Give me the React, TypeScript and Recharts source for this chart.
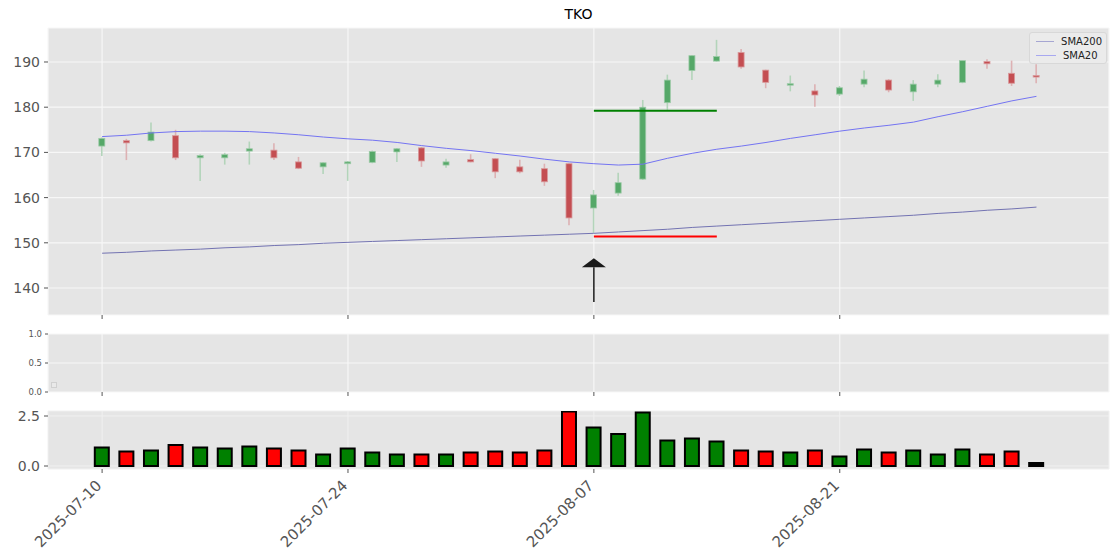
import React from "react";
import { ComposedChart, Bar, Line, XAxis, YAxis, CartesianGrid, ReferenceLine, ReferenceDot, Cell } from "recharts";

const dates = [
  "2025-07-10", "2025-07-11", "2025-07-14", "2025-07-15", "2025-07-16", "2025-07-17", "2025-07-18",
  "2025-07-21", "2025-07-22", "2025-07-23", "2025-07-24", "2025-07-25", "2025-07-28", "2025-07-29",
  "2025-07-30", "2025-07-31", "2025-08-01", "2025-08-04", "2025-08-05", "2025-08-06", "2025-08-07",
  "2025-08-08", "2025-08-11", "2025-08-12", "2025-08-13", "2025-08-14", "2025-08-15", "2025-08-18",
  "2025-08-19", "2025-08-20", "2025-08-21", "2025-08-22", "2025-08-25", "2025-08-26", "2025-08-27",
  "2025-08-28", "2025-08-29", "2025-09-02", "2025-09-03",
];
const opens = [171.4, 172.6, 172.6, 173.7, 168.8, 168.8, 170.3, 170.5, 167.9, 166.8, 167.5, 167.8, 170.1, 171.0, 167.2, 168.4, 168.6, 166.8, 166.4, 167.5, 157.7, 161.0, 164.1, 181.0, 188.1, 190.2, 192.1, 188.2, 185.0, 183.6, 182.9, 185.1, 186.0, 183.4, 185.1, 185.5, 190.1, 187.5, 187.0];
const highs = [173.3, 173.0, 176.6, 175.0, 169.6, 169.9, 172.4, 172.0, 169.0, 167.8, 168.1, 170.4, 171.0, 171.2, 168.6, 169.6, 168.7, 168.4, 167.5, 167.6, 161.7, 165.5, 181.6, 187.2, 191.5, 194.9, 192.9, 188.3, 187.0, 185.1, 184.7, 188.1, 186.2, 186.0, 187.3, 190.3, 190.6, 190.3, 189.5];
const lows = [169.2, 168.3, 172.4, 168.3, 163.7, 167.3, 167.3, 168.3, 166.3, 165.2, 163.7, 167.6, 167.9, 166.8, 166.6, 167.8, 164.3, 165.4, 162.6, 153.9, 152.2, 160.4, 163.9, 179.4, 186.0, 190.1, 188.5, 184.2, 183.5, 180.1, 182.5, 184.4, 183.3, 181.4, 184.4, 185.3, 188.5, 184.7, 185.3];
const closes = [173.1, 172.1, 174.5, 168.8, 169.3, 169.5, 170.8, 168.8, 166.5, 167.7, 167.9, 170.2, 170.8, 168.1, 167.9, 167.9, 165.7, 165.7, 163.5, 155.5, 160.6, 163.3, 180.0, 186.0, 191.4, 191.2, 188.9, 185.5, 185.2, 182.7, 184.3, 186.2, 183.8, 185.1, 186.0, 190.3, 189.6, 185.3, 186.7];
const sma20 = [173.5, 173.8, 174.3, 174.6, 174.7, 174.7, 174.6, 174.3, 173.9, 173.4, 173.0, 172.7, 172.2, 171.5, 170.9, 170.4, 169.8, 169.2, 168.5, 167.9, 167.5, 167.2, 167.4, 168.7, 169.8, 170.7, 171.4, 172.2, 173.1, 173.9, 174.7, 175.4, 176.0, 176.7, 177.9, 179.0, 180.2, 181.4, 182.4];
const sma200 = [147.7, 147.9, 148.2, 148.4, 148.6, 148.9, 149.1, 149.4, 149.6, 149.9, 150.1, 150.3, 150.5, 150.7, 150.9, 151.1, 151.3, 151.5, 151.7, 151.9, 152.1, 152.4, 152.7, 153.0, 153.4, 153.7, 154.0, 154.3, 154.6, 154.9, 155.2, 155.5, 155.8, 156.1, 156.5, 156.8, 157.2, 157.5, 157.9];
const volumes = [0.93, 0.73, 0.78, 1.05, 0.93, 0.88, 0.98, 0.88, 0.78, 0.58, 0.88, 0.68, 0.58, 0.58, 0.58, 0.68, 0.73, 0.68, 0.78, 2.73, 1.93, 1.6, 2.68, 1.28, 1.38, 1.23, 0.78, 0.73, 0.68, 0.78, 0.48, 0.83, 0.68, 0.78, 0.58, 0.83, 0.58, 0.73, 0.15];
const volColors = ["g", "r", "g", "r", "g", "g", "g", "r", "r", "g", "g", "g", "g", "r", "g", "r", "r", "r", "r", "r", "g", "g", "g", "g", "g", "g", "r", "r", "g", "r", "g", "g", "r", "g", "g", "g", "r", "r", "k"];
const xTicks = [0, 10, 20, 30];
const priceTicks = [140, 150, 160, 170, 180, 190];
const resistance = 179.2;
const support = 151.4;
const signalIndex = 20;
const levelEnd = 25;
const arrowBase = 136.9;
const arrowTip = 146.6;

const rows = dates.map((d, i) => ({
  i, date: d, o: opens[i], h: highs[i], l: lows[i], c: closes[i],
  sma20: sma20[i], sma200: sma200[i], v: volumes[i],
}));

const X_DOMAIN: [number, number] = [-2.2, 40.95];
const FONT = "DejaVu Sans, sans-serif";
const BG = "#E5E5E5";
const VOL_FILL: Record<string, string> = { g: "#008000", r: "#FF0000", k: "#000000" };

function Candle(props: any) {
  const { x, y, width, height, payload } = props;
  const top = Math.min(y, y + height);
  const bottom = Math.max(y, y + height);
  const span = payload.h - payload.l || 1;
  const py = (p: number) => top + ((payload.h - p) / span) * (bottom - top);
  const up = payload.c >= payload.o;
  const cx = x + width / 2;
  const bTop = py(Math.max(payload.o, payload.c));
  const bBot = py(Math.min(payload.o, payload.c));
  return (
    <g>
      <line x1={cx} x2={cx} y1={top} y2={bottom} stroke={up ? "#B3D4BA" : "#DDB1B3"} strokeWidth={1.6} />
      <rect x={x} y={bTop} width={width} height={Math.max(bBot - bTop, 1.5)} fill={up ? "#55A868" : "#C44E52"} stroke={up ? "#9CCAA7" : "#D99A9C"} strokeWidth={0.8} />
    </g>
  );
}

function ArrowHead(props: any) {
  const { cx, cy } = props;
  return <path d={`M${cx},${cy} L${cx + 12},${cy + 9} L${cx - 12},${cy + 9} Z`} fill="#1a1a1a" />;
}

function LegendBox() {
  const item = (color: string, label: string) => (
    <div style={{ display: "flex", alignItems: "center", height: 14 }}>
      <div style={{ width: 20, height: 0, borderTop: `1.5px solid ${color}`, marginRight: 7 }} />
      <span>{label}</span>
    </div>
  );
  return (
    <div style={{ position: "absolute", right: 13, top: 32, background: "#EBEBEB", border: "1px solid #D8D8D8", borderRadius: 3, padding: "1px 4px 1px 6px", fontFamily: FONT, fontSize: 10, color: "#222", width: 66 }}>
      {item("#A6A6D2", "SMA200")}
      {item("#A8A8F0", "SMA20")}
    </div>
  );
}

export default function App() {
  const tickStyle = { fill: "#555", fontSize: 14, fontFamily: FONT };
  return (
    <div style={{ position: "absolute", left: 0, top: 0, width: 1120, height: 560, background: "#fff", fontFamily: FONT }}>
      <div style={{ position: "absolute", left: 478, width: 201, top: 6, textAlign: "center", fontSize: 14, color: "#000" }}>TKO</div>

      <div style={{ position: "absolute", left: 0, top: 0 }}>
        <ComposedChart width={1120} height={322} data={rows} margin={{ top: 28, right: 11, bottom: 0, left: 0 }}>
          <CartesianGrid fill={BG} stroke="#F7F7F7" strokeWidth={1.2} />
          <XAxis type="number" dataKey="i" domain={X_DOMAIN} ticks={xTicks} allowDataOverflow tickFormatter={() => ""} height={7} tickSize={4} axisLine={false} tickLine={{ stroke: "#555" }} />
          <YAxis type="number" domain={[134.03, 197.52]} ticks={priceTicks} allowDataOverflow width={48} tickSize={4} tickMargin={4} axisLine={false} tickLine={{ stroke: "#555" }} tick={tickStyle} />
          <Bar dataKey={(r: any) => [r.l, r.h]} barSize={6} shape={Candle} isAnimationActive={false} />
          <Line type="linear" dataKey="sma200" stroke="#7373B2" strokeWidth={1} dot={false} isAnimationActive={false} />
          <Line type="linear" dataKey="sma20" stroke="#7474F2" strokeWidth={1} dot={false} isAnimationActive={false} />
          <ReferenceLine segment={[{ x: signalIndex, y: resistance }, { x: levelEnd, y: resistance }]} stroke="#008000" strokeWidth={2} />
          <ReferenceLine segment={[{ x: signalIndex, y: support }, { x: levelEnd, y: support }]} stroke="#FF0000" strokeWidth={2} />
          <ReferenceLine segment={[{ x: signalIndex, y: arrowBase }, { x: signalIndex, y: arrowTip - 2 }]} stroke="#1a1a1a" strokeWidth={1.5} />
          <ReferenceDot x={signalIndex} y={arrowTip} shape={ArrowHead} />
        </ComposedChart>
        <LegendBox />
      </div>

      <div style={{ position: "absolute", left: 0, top: 326 }}>
        <ComposedChart width={1120} height={73} data={rows} margin={{ top: 8, right: 11, bottom: 0, left: 0 }}>
          <CartesianGrid fill={BG} stroke="#F7F7F7" strokeWidth={1.2} />
          <XAxis type="number" dataKey="i" domain={X_DOMAIN} ticks={xTicks} allowDataOverflow tickFormatter={() => ""} height={7} tickSize={4} axisLine={false} tickLine={{ stroke: "#555" }} />
          <YAxis type="number" domain={[0, 1]} ticks={[0, 0.5, 1]} allowDataOverflow width={48} tickSize={3} tickMargin={3} axisLine={false} tickLine={{ stroke: "#555" }} tick={{ fill: "#555", fontSize: 8.5, fontFamily: FONT }} tickFormatter={(v: number) => v.toFixed(1)} />
          <Line dataKey={() => 0} stroke="none" dot={false} activeDot={false} isAnimationActive={false} />
        </ComposedChart>
        <div style={{ position: "absolute", left: 51, top: 56, width: 4, height: 4, border: "1px solid #D0D0D0", background: "#E9E9E9" }} />
      </div>

      <div style={{ position: "absolute", left: 0, top: 403 }}>
        <ComposedChart width={1120} height={151} data={rows} margin={{ top: 8, right: 11, bottom: 0, left: 0 }}>
          <CartesianGrid fill={BG} stroke="#F0F0F0" strokeWidth={1} />
          <XAxis type="number" dataKey="i" domain={X_DOMAIN} ticks={xTicks} allowDataOverflow tickFormatter={(v: number) => dates[v]} height={85} tickSize={4} tickMargin={4} axisLine={false} tickLine={{ stroke: "#555" }} angle={-45} textAnchor="end" tick={{ fill: "#555", fontSize: 15, fontFamily: FONT, dx: -7, dy: 2 }} />
          <YAxis type="number" domain={[-0.15, 2.75]} ticks={[0, 2.5]} allowDataOverflow width={48} tickSize={4} tickMargin={4} axisLine={false} tickLine={{ stroke: "#555" }} tick={tickStyle} tickFormatter={(v: number) => v.toFixed(1)} />
          <Bar dataKey="v" barSize={14} stroke="#000" strokeWidth={2} isAnimationActive={false}>
            {rows.map((r, k) => <Cell key={k} fill={VOL_FILL[volColors[k]]} />)}
          </Bar>
        </ComposedChart>
      </div>
    </div>
  );
}
